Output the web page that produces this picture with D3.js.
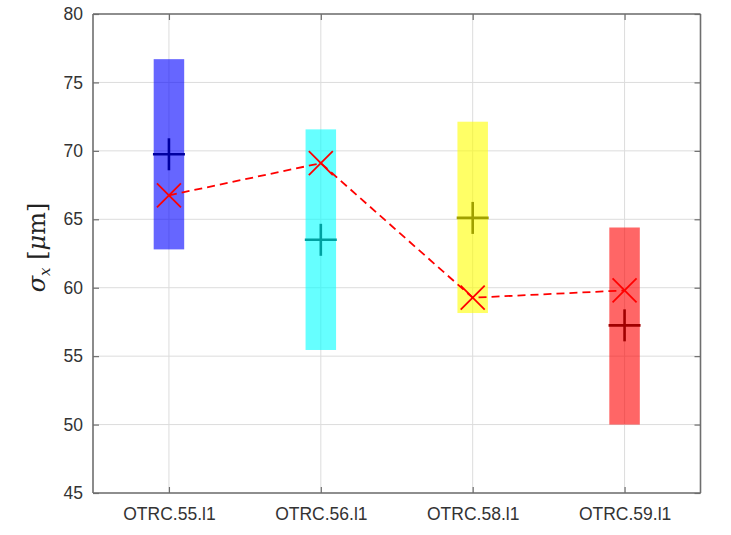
<!DOCTYPE html>
<html>
<head>
<meta charset="utf-8">
<script src="https://cdn.jsdelivr.net/npm/d3@7"></script>
<style>
  html, body { margin: 0; padding: 0; background: #fff; }
  svg { display: block; }
</style>
</head>
<body>
<svg id="chart" width="731" height="535"></svg>
<script>
// Measurement sets
const categories = ["OTRC.55.l1", "OTRC.56.l1", "OTRC.58.l1", "OTRC.59.l1"];
// Spread of each set (bar from low to high)
const rangeLow  = [62.8, 55.45, 58.15, 50.0];
const rangeHigh = [76.7, 71.57, 72.13, 64.4];
// Mean of each set (plus marker)
const meanValues = [69.75, 63.5, 65.1, 57.25];
// Reference value per set (cross marker, joined by dashed line)
const refValues = [66.75, 69.1, 59.27, 59.8];
// Fill colours of the bars and darker shades for the mean markers
const barColors  = ["#0000ff", "#00ffff", "#ffff00", "#ff0000"];
const markColors = ["#0000a0", "#00a0a0", "#a0a000", "#a00000"];
const yTicks = [45, 50, 55, 60, 65, 70, 75, 80];

const svg = d3.select("#chart");
const m = { left: 93, top: 14, right: 30.5, bottom: 42 };
const W = 731 - m.left - m.right;
const H = 535 - m.top - m.bottom;
const g = svg.append("g").attr("transform", `translate(${m.left},${m.top})`);

const x = d3.scaleLinear().domain([0.5, categories.length + 0.5]).range([0, W]);
const y = d3.scaleLinear().domain([45, 80]).range([H, 0]);
const idx = categories.map((_, i) => i + 1);

// grid
g.append("g").selectAll("line").data(yTicks).join("line")
  .attr("x1", 0).attr("x2", W)
  .attr("y1", d => y(d)).attr("y2", d => y(d))
  .attr("stroke", "#dcdcdc").attr("stroke-width", 1);
g.append("g").selectAll("line").data(idx).join("line")
  .attr("y1", 0).attr("y2", H)
  .attr("x1", d => x(d)).attr("x2", d => x(d))
  .attr("stroke", "#dcdcdc").attr("stroke-width", 1);

// range bars
const bw = 30.5;
g.append("g").selectAll("rect").data(idx).join("rect")
  .attr("x", d => x(d) - bw / 2)
  .attr("width", bw)
  .attr("y", (d, i) => y(rangeHigh[i]))
  .attr("height", (d, i) => y(rangeLow[i]) - y(rangeHigh[i]))
  .attr("fill", (d, i) => barColors[i])
  .attr("fill-opacity", 0.6);

// mean markers (+)
const ps = 16;
const plus = g.append("g").selectAll("g").data(idx).join("g")
  .attr("transform", (d, i) => `translate(${x(d)},${y(meanValues[i])})`)
  .attr("stroke", (d, i) => markColors[i])
  .attr("stroke-width", 2.6);
plus.append("line").attr("x1", -ps).attr("x2", ps).attr("y1", 0).attr("y2", 0);
plus.append("line").attr("x1", 0).attr("x2", 0).attr("y1", -ps).attr("y2", ps);

// reference line (dashed) and cross markers
const line = d3.line().x(d => x(d)).y((d, i) => y(refValues[i]));
g.append("path").datum(idx)
  .attr("d", line)
  .attr("fill", "none")
  .attr("stroke", "#ff0000")
  .attr("stroke-width", 1.8)
  .attr("stroke-dasharray", "8,5");

const cs = 12;
const cross = g.append("g").selectAll("g").data(idx).join("g")
  .attr("transform", (d, i) => `translate(${x(d)},${y(refValues[i])})`)
  .attr("stroke", "#ff0000")
  .attr("stroke-width", 1.8);
cross.append("line").attr("x1", -cs).attr("x2", cs).attr("y1", -cs).attr("y2", cs);
cross.append("line").attr("x1", -cs).attr("x2", cs).attr("y1", cs).attr("y2", -cs);

// axes
const axisColor = "#6e6e6e";
const yAxis = g.append("g").call(d3.axisLeft(y).tickValues(yTicks).tickSize(-6).tickPadding(10));
const yAxisR = g.append("g").attr("transform", `translate(${W},0)`)
  .call(d3.axisRight(y).tickValues(yTicks).tickSize(-6).tickFormat(""));
const xAxis = g.append("g").attr("transform", `translate(0,${H})`)
  .call(d3.axisBottom(x).tickValues(idx).tickSize(-6).tickPadding(15)
    .tickFormat(d => categories[d - 1]));
const xAxisT = g.append("g")
  .call(d3.axisTop(x).tickValues(idx).tickSize(-6).tickFormat(""));

[yAxis, yAxisR, xAxis, xAxisT].forEach(a => {
  a.select(".domain").attr("stroke", axisColor).attr("stroke-width", 1.6);
  a.selectAll(".tick line").attr("stroke", axisColor).attr("stroke-width", 1.2);
  a.selectAll("text")
    .attr("fill", "#333")
    .style("font-family", "'Liberation Sans', Arial, sans-serif")
    .style("font-size", "17.5px");
});
// the box corners drawn square
[yAxis, yAxisR].forEach(a => a.select(".domain").attr("d", `M0,0V${H}`));
[xAxis, xAxisT].forEach(a => a.select(".domain").attr("d", `M0,0H${W}`));

// y label: sigma_x [mu m]
const lab = svg.append("text")
  .attr("transform", `translate(45,${m.top + H / 2 - 6}) rotate(-90)`)
  .attr("text-anchor", "middle")
  .attr("fill", "#222")
  .style("font-family", "'DejaVu Serif', 'Liberation Serif', serif")
  .style("font-size", "24px");
lab.append("tspan").style("font-style", "italic").text("σ");
lab.append("tspan").style("font-style", "italic").style("font-size", "15px")
  .attr("dy", 5).text("x");
lab.append("tspan").attr("dy", -5).text(" [");
lab.append("tspan").style("font-style", "italic").text("μ");
lab.append("tspan").text("m]");
</script>
</body>
</html>
